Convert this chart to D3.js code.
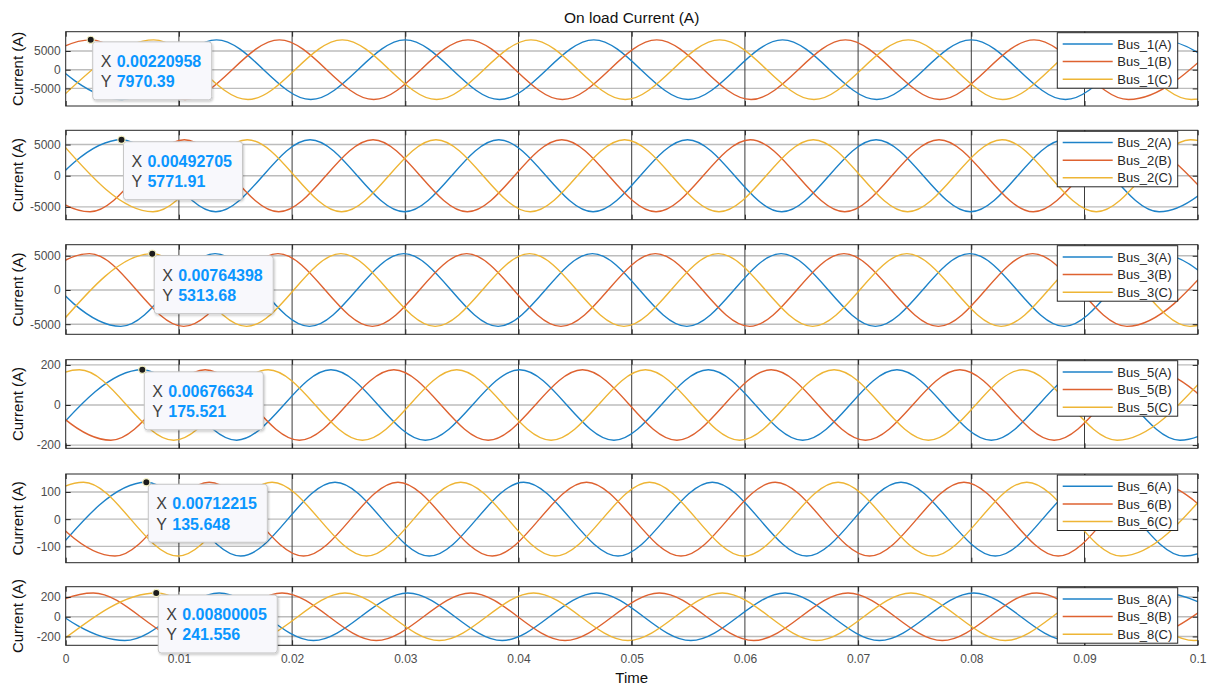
<!DOCTYPE html>
<html>
<head>
<meta charset="utf-8">
<script src="https://cdn.jsdelivr.net/npm/d3@7"></script>
<style>
  html, body { margin: 0; padding: 0; background: #ffffff; }
  svg { display: block; font-family: "Liberation Sans", Arial, Helvetica, sans-serif; }
</style>
</head>
<body>
<svg id="chart" width="1218" height="686"></svg>
<script>
// ---- Data -----------------------------------------------------------------
const busNames   = ["Bus_1", "Bus_2", "Bus_3", "Bus_5", "Bus_6", "Bus_8"];
const phaseNames = ["(A)", "(B)", "(C)"];
const xTicks     = [0, 0.01, 0.02, 0.03, 0.04, 0.05, 0.06, 0.07, 0.08, 0.09, 0.1];
const xTickLabels = ["0", "0.01", "0.02", "0.03", "0.04", "0.05", "0.06", "0.07", "0.08", "0.09", "0.1"];
const yDomains   = [[-9700, 10150], [-7050, 7280], [-6480, 6620], [-216, 226], [-160, 166], [-290, 305]];
const yTicks     = [[-5000, 0, 5000], [-5000, 0, 5000], [-5000, 0, 5000], [-200, 0, 200], [-100, 0, 100], [-200, 0, 200]];

// Data-tip readouts (time, current) shown on each panel
const tipX     = [0.00220958, 0.00492705, 0.00764398, 0.00676634, 0.00712215, 0.00800005];
const tipY     = [7970.39, 5771.91, 5313.68, 175.521, 135.648, 241.556];
const tipLabelX = ["0.00220958", "0.00492705", "0.00764398", "0.00676634", "0.00712215", "0.00800005"];
const tipLabelY = ["7970.39", "5771.91", "5313.68", "175.521", "135.648", "241.556"];

// Crest / trough points [time s, current A] of each phase current (60 Hz)
const bus1A = [[-0.00335,7970],[0.00499,-7970],[0.01332,7970],[0.02165,-7970],[0.02999,7970],[0.03832,-7970],[0.04665,7970],[0.05499,-7970],[0.06332,7970],[0.07165,-7970],[0.07999,7970],[0.08832,-7970],[0.09665,7970],[0.10499,-7970]];
const bus1B = [[-0.00612,-7970],[0.00221,7970],[0.01054,-7970],[0.01888,7970],[0.02721,-7970],[0.03554,7970],[0.04388,-7970],[0.05221,7970],[0.06054,-7970],[0.06888,7970],[0.07721,-7970],[0.08554,7970],[0.09388,-7970],[0.10221,7970]];
const bus1C = [[-0.00057,-7970],[0.00777,7970],[0.01610,-7970],[0.02443,7970],[0.03277,-7970],[0.04110,7970],[0.04943,-7970],[0.05777,7970],[0.06610,-7970],[0.07443,7970],[0.08277,-7970],[0.09110,7970],[0.09943,-7970],[0.10777,7970]];

const bus2A = [[-0.00341,-5772],[0.00493,5772],[0.01326,-5772],[0.02159,5772],[0.02993,-5772],[0.03826,5772],[0.04659,-5772],[0.05493,5772],[0.06326,-5772],[0.07159,5772],[0.07993,-5772],[0.08826,5772],[0.09659,-5772],[0.10493,5772]];
const bus2B = [[-0.00618,5772],[0.00215,-5772],[0.01048,5772],[0.01882,-5772],[0.02715,5772],[0.03548,-5772],[0.04382,5772],[0.05215,-5772],[0.06048,5772],[0.06882,-5772],[0.07715,5772],[0.08548,-5772],[0.09382,5772],[0.10215,-5772]];
const bus2C = [[-0.00063,5772],[0.00771,-5772],[0.01604,5772],[0.02437,-5772],[0.03271,5772],[0.04104,-5772],[0.04937,5772],[0.05771,-5772],[0.06604,5772],[0.07437,-5772],[0.08271,5772],[0.09104,-5772],[0.09937,5772],[0.10771,-5772]];

const bus3A = [[-0.00347,5314],[0.00487,-5314],[0.01320,5314],[0.02153,-5314],[0.02987,5314],[0.03820,-5314],[0.04653,5314],[0.05487,-5314],[0.06320,5314],[0.07153,-5314],[0.07987,5314],[0.08820,-5314],[0.09653,5314],[0.10487,-5314]];
const bus3B = [[-0.00624,-5314],[0.00209,5314],[0.01042,-5314],[0.01875,5314],[0.02709,-5314],[0.03542,5314],[0.04375,-5314],[0.05209,5314],[0.06042,-5314],[0.06875,5314],[0.07709,-5314],[0.08542,5314],[0.09375,-5314],[0.10209,5314]];
const bus3C = [[-0.00069,-5314],[0.00764,5314],[0.01598,-5314],[0.02431,5314],[0.03264,-5314],[0.04098,5314],[0.04931,-5314],[0.05764,5314],[0.06598,-5314],[0.07431,5314],[0.08264,-5314],[0.09098,5314],[0.09931,-5314],[0.10764,5314]];

const bus5A = [[-0.00157,-175.5],[0.00677,175.5],[0.01510,-175.5],[0.02343,175.5],[0.03177,-175.5],[0.04010,175.5],[0.04843,-175.5],[0.05677,175.5],[0.06510,-175.5],[0.07343,175.5],[0.08177,-175.5],[0.09010,175.5],[0.09843,-175.5],[0.10677,175.5]];
const bus5B = [[-0.00434,175.5],[0.00399,-175.5],[0.01232,175.5],[0.02065,-175.5],[0.02899,175.5],[0.03732,-175.5],[0.04565,175.5],[0.05399,-175.5],[0.06232,175.5],[0.07065,-175.5],[0.07899,175.5],[0.08732,-175.5],[0.09565,175.5],[0.10399,-175.5]];
const bus5C = [[-0.00712,-175.5],[0.00121,175.5],[0.00954,-175.5],[0.01788,175.5],[0.02621,-175.5],[0.03454,175.5],[0.04288,-175.5],[0.05121,175.5],[0.05954,-175.5],[0.06788,175.5],[0.07621,-175.5],[0.08454,175.5],[0.09288,-175.5],[0.10121,175.5]];

const bus6A = [[-0.00121,-135.6],[0.00712,135.6],[0.01546,-135.6],[0.02379,135.6],[0.03212,-135.6],[0.04046,135.6],[0.04879,-135.6],[0.05712,135.6],[0.06546,-135.6],[0.07379,135.6],[0.08212,-135.6],[0.09046,135.6],[0.09879,-135.6],[0.10712,135.6]];
const bus6B = [[-0.00399,135.6],[0.00435,-135.6],[0.01268,135.6],[0.02101,-135.6],[0.02935,135.6],[0.03768,-135.6],[0.04601,135.6],[0.05435,-135.6],[0.06268,135.6],[0.07101,-135.6],[0.07935,135.6],[0.08768,-135.6],[0.09601,135.6],[0.10435,-135.6]];
const bus6C = [[-0.00677,-135.6],[0.00157,135.6],[0.00990,-135.6],[0.01823,135.6],[0.02657,-135.6],[0.03490,135.6],[0.04323,-135.6],[0.05157,135.6],[0.05990,-135.6],[0.06823,135.6],[0.07657,-135.6],[0.08490,135.6],[0.09323,-135.6],[0.10157,135.6]];

const bus8A = [[-0.00311,241.6],[0.00522,-241.6],[0.01356,241.6],[0.02189,-241.6],[0.03022,241.6],[0.03856,-241.6],[0.04689,241.6],[0.05522,-241.6],[0.06356,241.6],[0.07189,-241.6],[0.08022,241.6],[0.08856,-241.6],[0.09689,241.6],[0.10522,-241.6]];
const bus8B = [[-0.00589,-241.6],[0.00244,241.6],[0.01078,-241.6],[0.01911,241.6],[0.02744,-241.6],[0.03578,241.6],[0.04411,-241.6],[0.05244,241.6],[0.06078,-241.6],[0.06911,241.6],[0.07744,-241.6],[0.08578,241.6],[0.09411,-241.6],[0.10244,241.6]];
const bus8C = [[-0.00033,-241.6],[0.00800,241.6],[0.01633,-241.6],[0.02467,241.6],[0.03300,-241.6],[0.04133,241.6],[0.04967,-241.6],[0.05800,241.6],[0.06633,-241.6],[0.07467,241.6],[0.08300,-241.6],[0.09133,241.6],[0.09967,-241.6],[0.10800,241.6]];

const busSeries = [
  [bus1A, bus1B, bus1C],
  [bus2A, bus2B, bus2C],
  [bus3A, bus3B, bus3C],
  [bus5A, bus5B, bus5C],
  [bus6A, bus6B, bus6C],
  [bus8A, bus8B, bus8C]
];

// ---- Layout & style ------------------------------------------------------
const phaseColors = ["#1d82c8", "#de6230", "#eeb535"];
const plotLeft = 65.7, plotRight = 1197.7;
const panelBands = [[31.7, 106], [130.3, 219.7], [244.7, 334.3], [359.7, 448.3], [474, 562.7], [586.7, 645.3]];

const svg = d3.select("#chart");
const defs = svg.append("defs");
defs.append("filter").attr("id", "tipShadow")
  .attr("x", "-10%").attr("y", "-10%").attr("width", "130%").attr("height", "140%")
  .append("feDropShadow")
  .attr("dx", 1).attr("dy", 1.5).attr("stdDeviation", 1.2)
  .attr("flood-color", "#000").attr("flood-opacity", 0.22);

const x = d3.scaleLinear().domain([0, 0.1]).range([plotLeft, plotRight]);

// Title and shared x label
svg.append("text")
  .attr("x", (plotLeft + plotRight) / 2).attr("y", 23)
  .attr("text-anchor", "middle").attr("font-size", 15.5).attr("fill", "#111")
  .text("On load Current (A)");

svg.append("text")
  .attr("x", (plotLeft + plotRight) / 2).attr("y", 683)
  .attr("text-anchor", "middle").attr("font-size", 15).attr("fill", "#111")
  .text("Time");

busNames.forEach((bus, i) => {
  const [top, bottom] = panelBands[i];
  const y = d3.scaleLinear().domain(yDomains[i]).range([bottom, top]);
  const g = svg.append("g").attr("class", "panel");

  const clipId = "clip" + i;
  defs.append("clipPath").attr("id", clipId)
    .append("rect")
    .attr("x", plotLeft).attr("y", top)
    .attr("width", plotRight - plotLeft).attr("height", bottom - top);

  g.append("rect")
    .attr("x", plotLeft).attr("y", top)
    .attr("width", plotRight - plotLeft).attr("height", bottom - top)
    .attr("fill", "#ffffff");

  // Grid: light horizontal rules, darker vertical rules
  g.append("g").selectAll("line").data(yTicks[i]).join("line")
    .attr("x1", plotLeft).attr("x2", plotRight)
    .attr("y1", d => y(d)).attr("y2", d => y(d))
    .attr("stroke", "#bcbcbc").attr("stroke-width", 1.4);

  g.append("g").selectAll("line").data(xTicks.slice(1, -1)).join("line")
    .attr("x1", d => x(d)).attr("x2", d => x(d))
    .attr("y1", top).attr("y2", bottom)
    .attr("stroke", "#3c3c3c").attr("stroke-width", 1);

  // Phase currents
  const line = d3.line()
    .x(d => x(d[0])).y(d => y(d[1]))
    .curve(d3.curveMonotoneX);

  g.append("g").attr("clip-path", `url(#${clipId})`)
    .selectAll("path").data(busSeries[i]).join("path")
    .attr("d", line)
    .attr("fill", "none")
    .attr("stroke", (d, k) => phaseColors[k])
    .attr("stroke-width", 1.4);

  // Axes with inward ticks
  const yAxisL = g.append("g").attr("transform", `translate(${plotLeft},0)`)
    .call(d3.axisLeft(y).tickValues(yTicks[i]).tickSize(-5).tickPadding(5).tickFormat(d3.format("d")));
  const yAxisR = g.append("g").attr("transform", `translate(${plotRight},0)`)
    .call(d3.axisRight(y).tickValues(yTicks[i]).tickSize(-5).tickFormat(""));
  const xAxisB = g.append("g").attr("transform", `translate(0,${bottom})`)
    .call(d3.axisBottom(x).tickValues(xTicks).tickSize(-5).tickPadding(9)
      .tickFormat((d, k) => i === busNames.length - 1 ? xTickLabels[k] : ""));
  const xAxisT = g.append("g").attr("transform", `translate(0,${top})`)
    .call(d3.axisTop(x).tickValues(xTicks).tickSize(-5).tickFormat(""));

  [yAxisL, yAxisR, xAxisB, xAxisT].forEach(a => {
    a.select(".domain").remove();
    a.selectAll(".tick line").attr("stroke", "#262626");
    a.selectAll(".tick text")
      .attr("fill", "#4d4d4d").attr("font-size", 12)
      .attr("font-family", "Liberation Sans, Arial, sans-serif");
  });
  yAxisL.selectAll(".tick text").text(d => d === 0 ? "0" : String(d));

  // Box
  g.append("rect")
    .attr("x", plotLeft).attr("y", top)
    .attr("width", plotRight - plotLeft).attr("height", bottom - top)
    .attr("fill", "none").attr("stroke", "#262626").attr("stroke-width", 1);

  // y label
  g.append("text")
    .attr("transform", `translate(23,${(top + bottom) / 2}) rotate(-90)`)
    .attr("text-anchor", "middle").attr("font-size", 15).attr("fill", "#111")
    .text("Current (A)");

  // Legend
  const legX = 1057.3, legW = 120.4, legY = top + 1, legH = 55.5;
  const leg = g.append("g");
  leg.append("rect")
    .attr("x", legX).attr("y", legY).attr("width", legW).attr("height", legH)
    .attr("fill", "#ffffff").attr("stroke", "#262626").attr("stroke-width", 1);
  phaseNames.forEach((p, k) => {
    const ry = legY + 11.3 + k * 17.6;
    leg.append("line")
      .attr("x1", legX + 5.4).attr("x2", legX + 55.4)
      .attr("y1", ry).attr("y2", ry)
      .attr("stroke", phaseColors[k]).attr("stroke-width", 1.5);
    leg.append("text")
      .attr("x", legX + 60).attr("y", ry).attr("dy", "0.36em")
      .attr("font-size", 13).attr("fill", "#262626")
      .text(bus + p);
  });

  // Data tip
  const tx = x(tipX[i]), ty = y(tipY[i]);
  const tip = g.append("g");
  tip.append("rect")
    .attr("x", tx + 2).attr("y", ty + 2).attr("width", 119).attr("height", 58)
    .attr("rx", 3).attr("ry", 3)
    .attr("fill", "#f8f8fc").attr("stroke", "#c6c6c6").attr("stroke-width", 1)
    .attr("filter", "url(#tipShadow)");
  [["X", tipLabelX[i]], ["Y", tipLabelY[i]]].forEach(([lab, val], r) => {
    const t = tip.append("text")
      .attr("x", tx + 10).attr("y", ty + 27 + r * 20.5)
      .attr("font-size", 16);
    t.append("tspan").attr("fill", "#404040").text(lab);
    t.append("tspan").attr("x", tx + 26).attr("fill", "#0a96ff").attr("font-weight", "bold").text(val);
  });
  tip.append("circle")
    .attr("cx", tx).attr("cy", ty).attr("r", 3.6)
    .attr("fill", "#1c1c1c").attr("stroke", "#f4f1c4").attr("stroke-width", 1.2);
});
</script>
</body>
</html>
